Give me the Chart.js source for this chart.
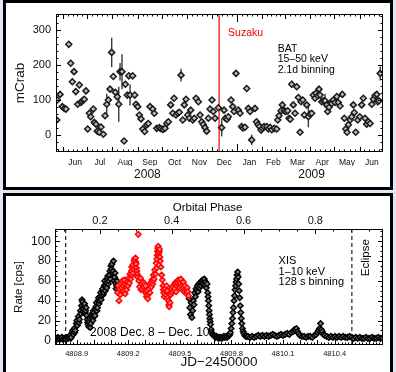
<!DOCTYPE html>
<html>
<head>
<meta charset="utf-8">
<script src="https://cdn.jsdelivr.net/npm/chart.js@4.4.1/dist/chart.umd.min.js"></script>
<style>
  html, body { margin: 0; padding: 0; }
  body { width: 396px; height: 372px; background: #e2e6f4; position: relative; overflow: hidden; }
  .panel { position: absolute; left: 3px; width: 390px; box-sizing: border-box; border: 3px solid #000; background: #fff; }
  #p1 { top: 0; height: 190px; }
  #p2 { top: 193px; height: 185px; }
  canvas { position: absolute; left: 0; }
  #bat { top: 0; }
  #xis { top: 192px; }
</style>
</head>
<body>
<div class="panel" id="p1"></div>
<div class="panel" id="p2"></div>
<canvas id="bat" width="396" height="190"></canvas>
<canvas id="xis" width="396" height="180"></canvas>
<script>
const FONT = '"Liberation Sans", Arial, sans-serif';

// ---- Swift/BAT, days since 2008 Jan 1 ----
const batDay = [144.5, 145.2, 148.6, 151.4, 153.8, 155.9, 159.3, 161.7, 163.7, 165.8, 167.9, 170.3, 172.3, 174.0, 175.6, 177.2, 178.4, 180.5, 182.6, 184.6,
  186.3, 189.5, 190.7, 192.8, 194.4, 196.9, 199.0, 201.8, 203.9, 206.0, 208.0, 210.1, 212.1, 214.1, 216.5, 219.0, 220.8, 222.4, 224.8, 227.3,
  228.9, 231.3, 233.1, 234.7, 237.9, 240.4, 242.0, 244.1, 246.1, 248.2, 250.3, 252.7, 255.2, 257.2, 259.3, 262.6, 264.5, 267.5, 270.7, 272.8,
  275.2, 277.7, 279.8, 281.8, 284.7, 287.2, 288.8, 291.2, 293.3, 295.3, 297.4, 299.5, 301.4, 303.5, 305.6, 307.6, 309.3, 311.8, 313.7, 315.8,
  318.7, 320.8, 322.8, 324.8, 326.9, 329.0, 331.0, 333.1, 335.5, 337.1, 339.2, 343.3, 347.4, 350.3, 351.9, 354.0, 355.6, 358.9, 361.0, 362.6,
  365.0, 367.9, 370.0, 371.8, 373.6, 376.1, 378.2, 380.2, 382.3, 384.3, 388.4, 390.2, 392.1, 393.9, 395.8, 397.6, 399.5, 402.8, 404.8, 406.9,
  409.0, 412.1, 415.1, 416.3, 417.9, 420.4, 422.0, 424.4, 426.2, 428.6, 430.2, 431.8, 433.5, 435.5, 437.6, 439.7, 441.7, 443.8, 445.0, 447.1,
  449.0, 452.0, 454.0, 456.1, 458.1, 460.1, 462.2, 463.4, 465.5, 467.1, 468.4, 470.4, 472.4, 474.5, 476.6, 477.8, 479.4, 481.5, 482.7, 484.7,
  486.8, 488.9, 490.9, 493.0, 495.8, 498.2, 500.0, 501.6, 503.2, 505.3, 507.3, 509.3, 510.5, 512.3, 514.7, 517.2, 519.6, 521.6, 523.7, 525.8,
  527.8, 529.9, 532.0, 533.9, 536.0, 538.1, 539.3, 540.9, 542.4];
const batRate = [43, 100, 116, 81, 76, 74, 259, 205, 152, 181, 124, 88, 143, 93, 96, 100, 102, 126, 17, 62,
  52, 74, 36, 31, 11, 8, 23, 2, 55, 88, 100, 131, 236, 167, 122, 109, 88, 181, 181, -17,
  145, 114, 169, 114, 169, 114, 88, 81, 57, 46, 17, 10, 29, 33, 81, 74, 62, 19, 21, 18,
  16, 19, 33, 38, 86, 62, 105, 57, 62, 65, 171, 43, 86, 102, 57, 48, 71, 43, 48, 105,
  95, 57, 38, 30, 21, 11, 48, 74, 100, 67, 48, 78, 21, 71, 48, 45, 52, 100, 81, 67,
  176, 71, 62, 24, 20, 22, 133, 76, 67, -14, 76, 38, 30, 24, 14, 19, 24, 24, 17, 22,
  15, 19, 17, 43, 55, 69, 86, 69, 67, 69, 48, 45, 145, 86, 62, 138, 107, 8, 95, 100,
  57, 86, 52, 60, 62, 114, 105, 119, 112, 131, 114, 95, 98, 98, 86, 67, 79, 93, 90, 100,
  93, 110, 93, 83, 116, 48, 17, 8, 29, 43, 52, 86, 64, 8, 43, 52, 86, 105, 48, 31,
  38, 33, 88, 103, 112, 116, 95, 98, 176];
// points whose error bars stick out of the symbol
const errDay = [206.0, 212.1, 220.8, 222.4, 224.8, 234.7, 297.4, 347.4, 384.3, 433.5, 454.0, 474.5, 542.4];
const errRate = [88, 236, 88, 181, 181, 114, 171, 21, -14, 145, 52, 98, 176];
const errHalf = [30, 42, 50, 25, 50, 30, 18, 25, 15, 10, 30, 20, 20];

const monthNames = ['Jun', 'Jul', 'Aug', 'Sep', 'Oct', 'Nov', 'Dec', 'Jan', 'Feb', 'Mar', 'Apr', 'May', 'Jun'];
const monthMid = [167, 197.5, 228.5, 259, 289.5, 320, 350.5, 381.5, 411, 440.5, 471, 501.5, 532];
const monthStart = [121, 152, 182, 213, 244, 274, 305, 335, 366, 397, 425, 456, 486, 517, 547];
const yearNames = ['2008', '2009'];
const yearLabelDay = [256, 458];
const yearStart = [366];
const suzakuDay = 344.2;

// ---- Suzaku XIS, JD-2450000 ----
const xisBlackJd = [4808.778, 4808.784, 4808.790, 4808.796, 4808.802, 4808.808, 4808.814, 4808.820, 4808.826, 4808.832, 4808.838, 4808.844, 4808.850, 4808.856,
  4808.862, 4808.865, 4808.868, 4808.874, 4808.877, 4808.880, 4808.886, 4808.889, 4808.892, 4808.898, 4808.901, 4808.904, 4808.910, 4808.913,
  4808.916, 4808.922, 4808.925, 4808.928, 4808.931, 4808.934, 4808.937, 4808.940, 4808.943, 4808.946, 4808.949, 4808.952, 4808.955, 4808.958,
  4808.961, 4808.964, 4808.967, 4808.970, 4808.973, 4808.976, 4808.979, 4808.982, 4808.985, 4808.988, 4808.991, 4808.994, 4808.997, 4809.000,
  4809.003, 4809.006, 4809.009, 4809.012, 4809.015, 4809.018, 4809.021, 4809.024, 4809.027, 4809.030, 4809.033, 4809.036, 4809.039, 4809.042,
  4809.045, 4809.048, 4809.051, 4809.054, 4809.057, 4809.060, 4809.063, 4809.066, 4809.069, 4809.072, 4809.075, 4809.078, 4809.081, 4809.084,
  4809.087, 4809.090, 4809.093, 4809.096, 4809.099, 4809.102, 4809.105, 4809.108, 4809.111, 4809.114, 4809.117, 4809.120, 4809.123, 4809.126,
  4809.129, 4809.132, 4809.135,
  4809.554, 4809.558, 4809.562, 4809.566, 4809.570, 4809.574, 4809.578, 4809.582, 4809.586, 4809.590, 4809.594, 4809.598, 4809.602, 4809.606,
  4809.610, 4809.614, 4809.618, 4809.622, 4809.626, 4809.630, 4809.634, 4809.638, 4809.642, 4809.646, 4809.650, 4809.654, 4809.658, 4809.662,
  4809.664, 4809.666, 4809.668, 4809.670, 4809.672, 4809.674, 4809.676, 4809.678, 4809.682, 4809.686, 4809.690, 4809.696, 4809.702, 4809.708,
  4809.714, 4809.720, 4809.726, 4809.732, 4809.738, 4809.744, 4809.750, 4809.756, 4809.762, 4809.768, 4809.774, 4809.780, 4809.786, 4809.790,
  4809.794, 4809.798, 4809.802, 4809.806, 4809.809, 4809.812, 4809.815, 4809.818, 4809.821, 4809.824, 4809.827, 4809.830, 4809.833, 4809.836,
  4809.839, 4809.842, 4809.845, 4809.848, 4809.851, 4809.854, 4809.857, 4809.860, 4809.864, 4809.868, 4809.872, 4809.878, 4809.884, 4809.890,
  4809.896, 4809.908, 4809.920, 4809.932, 4809.944, 4809.956, 4809.968, 4809.980, 4809.992, 4810.004, 4810.016, 4810.028, 4810.040, 4810.052,
  4810.064, 4810.076, 4810.088, 4810.100, 4810.112, 4810.124, 4810.136, 4810.148, 4810.160, 4810.166, 4810.172, 4810.178, 4810.184, 4810.190,
  4810.198, 4810.210, 4810.222, 4810.234, 4810.246, 4810.258, 4810.270, 4810.282, 4810.292, 4810.300, 4810.306, 4810.312, 4810.318, 4810.322,
  4810.328, 4810.334, 4810.342, 4810.354, 4810.366, 4810.378, 4810.390, 4810.402, 4810.414, 4810.426, 4810.438, 4810.450, 4810.462, 4810.474,
  4810.486, 4810.498, 4810.510, 4810.522, 4810.534, 4810.546, 4810.558, 4810.570, 4810.582, 4810.594, 4810.606, 4810.618, 4810.630, 4810.642,
  4810.654, 4810.666, 4810.678];
const xisBlackRate = [2, 1, 3, 2, 1, 2, 3, 1, 2, 2, 1, 3, 2, 3,
  5, 2, 3, 8, 10, 6, 12, 8, 10, 17, 20, 15, 24, 18,
  21, 30, 27, 35, 41, 39, 29, 32, 35, 37, 28, 30, 33, 25,
  21, 18, 16, 14, 19, 22, 13, 17, 26, 24, 22, 20, 30, 28,
  24, 25, 32, 34, 38, 30, 33, 40, 43, 37, 40, 44, 48, 41,
  45, 50, 52, 46, 48, 55, 60, 50, 55, 58, 53, 62, 65, 57,
  60, 66, 70, 62, 75, 72, 77, 68, 70, 80, 60, 64, 68, 58,
  52, 55, 60,
  42, 33, 26, 38, 23, 30, 40, 36, 48, 44, 52, 50, 55, 49,
  57, 53, 58, 55, 60, 57, 61, 58, 62, 56, 59, 53, 57, 48,
  44, 40, 35, 30, 26, 22, 19, 16, 11, 8, 6, 5, 4, 3,
  4, 3, 2, 3, 3, 2, 3, 4, 3, 4, 3, 4, 5, 6,
  8, 12, 17, 22, 28, 33, 40, 45, 51, 55, 59, 62, 66, 69,
  64, 57, 50, 43, 35, 28, 22, 17, 12, 9, 7, 5, 4, 4,
  4, 3, 4, 3, 4, 5, 4, 5, 4, 5, 4, 5, 6, 5,
  4, 5, 6, 5, 6, 7, 6, 8, 9, 11, 10, 12, 9, 7,
  5, 4, 4, 3, 4, 4, 3, 5, 6, 8, 10, 12, 17, 11,
  9, 6, 5, 4, 3, 4, 3, 4, 3, 4, 3, 4, 3, 3,
  4, 3, 2, 3, 2, 3, 2, 2, 3, 2, 2, 3, 2, 2,
  3, 2, 2];
const xisRedJd = [4809.138, 4809.142, 4809.146, 4809.150, 4809.154, 4809.158, 4809.162, 4809.166, 4809.168, 4809.170, 4809.174, 4809.176, 4809.178,
  4809.182, 4809.184, 4809.186, 4809.190, 4809.194, 4809.198, 4809.202, 4809.206, 4809.210, 4809.214, 4809.218, 4809.220, 4809.222, 4809.226,
  4809.228, 4809.230, 4809.234, 4809.236, 4809.238, 4809.242, 4809.244, 4809.246, 4809.248, 4809.250, 4809.252, 4809.254, 4809.258, 4809.262,
  4809.266, 4809.270, 4809.274, 4809.278, 4809.282, 4809.286, 4809.290, 4809.294, 4809.298, 4809.300, 4809.302, 4809.306, 4809.308, 4809.310,
  4809.314, 4809.318, 4809.322, 4809.326, 4809.330, 4809.334, 4809.338, 4809.342, 4809.344, 4809.346, 4809.350, 4809.354, 4809.358, 4809.362,
  4809.364, 4809.366, 4809.368, 4809.370, 4809.372, 4809.374, 4809.376, 4809.378, 4809.380, 4809.382, 4809.384, 4809.386, 4809.390, 4809.394,
  4809.398, 4809.402, 4809.404, 4809.406, 4809.410, 4809.414, 4809.418, 4809.420, 4809.422, 4809.426, 4809.430, 4809.434, 4809.436, 4809.438,
  4809.442, 4809.446, 4809.450, 4809.454, 4809.458, 4809.462, 4809.466, 4809.470, 4809.472, 4809.474, 4809.478, 4809.482, 4809.486, 4809.490,
  4809.494, 4809.498, 4809.500, 4809.502, 4809.506, 4809.510, 4809.514, 4809.518, 4809.520, 4809.522, 4809.526, 4809.530, 4809.534, 4809.538,
  4809.540, 4809.542, 4809.546, 4809.550];
const xisRedRate = [48, 55, 40, 52, 46, 58, 53, 60, 49, 55, 50, 57, 61,
  47, 52, 56, 51, 59, 55, 63, 58, 67, 62, 70, 74, 66, 76,
  68, 72, 80, 82, 74, 83, 79, 77, 73, 70, 67, 64, 107, 60,
  54, 63, 51, 57, 52, 59, 54, 57, 50, 55, 48, 44, 46, 50,
  42, 47, 52, 48, 58, 54, 61, 57, 60, 66, 62, 71, 67, 78,
  73, 82, 86, 90, 93, 95, 85, 88, 90, 92, 84, 80, 74, 66,
  61, 55, 51, 48, 44, 52, 46, 49, 55, 50, 43, 40, 36, 34,
  38, 46, 52, 48, 54, 50, 56, 52, 58, 57, 49, 55, 58, 61,
  56, 60, 53, 57, 62, 55, 51, 57, 59, 53, 49, 55, 51, 47,
  50, 53, 49, 45];

const jdTicks = [4808.9, 4809.2, 4809.5, 4809.8, 4810.1, 4810.4];
const phaseTicks = [0.2, 0.4, 0.6, 0.8];
const rateTicks = [0, 20, 40, 60, 80, 100];
const mcrabTicks = [0, 100, 200, 300];
const period = 2.087;
const phaseZeroJd = 4808.618;
const eclipseJd = [4808.836, 4810.50];
const jdMin = 4808.774, jdMax = 4810.681;

function range(a, b, step) {
  const out = [];
  for (let v = a; v <= b + 1e-9; v += step) out.push(+v.toFixed(4));
  return out;
}

const frame = {
  id: 'frame',
  beforeDatasetsDraw(chart, args, o) {
    const {ctx} = chart;
    if (o.errors) {
      const e = o.errors, xs = chart.scales.x, ys = chart.scales.y;
      ctx.save();
      ctx.strokeStyle = '#3a3a3a';
      ctx.lineWidth = 1.4;
      e.x.forEach((v, i) => {
        const px = xs.getPixelForValue(v);
        ctx.beginPath();
        ctx.moveTo(px, ys.getPixelForValue(e.y[i] - e.h[i]));
        ctx.lineTo(px, ys.getPixelForValue(e.y[i] + e.h[i]));
        ctx.stroke();
      });
      ctx.restore();
    }
    const a = chart.chartArea;
    (o.vlines || []).forEach(l => {
      const px = chart.scales[l.scale].getPixelForValue(l.value);
      ctx.save();
      ctx.strokeStyle = l.color;
      ctx.lineWidth = l.width;
      ctx.setLineDash(l.dash || []);
      ctx.beginPath();
      ctx.moveTo(px, a.top);
      ctx.lineTo(px, a.bottom);
      ctx.stroke();
      ctx.restore();
    });
  },
  afterDraw(chart, args, o) {
    const {ctx} = chart;
    const a = chart.chartArea;
    ctx.save();
    ctx.strokeStyle = '#000';
    ctx.lineWidth = 1;
    ctx.strokeRect(a.left + 0.5, a.top + 0.5, a.right - a.left - 1, a.bottom - a.top - 1);
    (o.marks || []).forEach(m => {
      const s = chart.scales[m.scale];
      m.values.forEach(v => {
        const p = Math.round(s.getPixelForValue(v)) + 0.5;
        m.sides.forEach(side => {
          ctx.beginPath();
          if (side === 'bottom' || side === 'top') {
            if (p < a.left || p > a.right) return;
            const y0 = side === 'bottom' ? a.bottom : a.top;
            ctx.moveTo(p, y0);
            ctx.lineTo(p, side === 'bottom' ? y0 - m.len : y0 + m.len);
          } else {
            if (p < a.top || p > a.bottom) return;
            const x0 = side === 'left' ? a.left : a.right;
            ctx.moveTo(x0, p);
            ctx.lineTo(side === 'left' ? x0 + m.len : x0 - m.len, p);
          }
          ctx.stroke();
        });
      });
    });
    (o.texts || []).forEach(t => {
      const px = chart.scales[t.xScale || 'x'].getPixelForValue(t.x);
      const py = chart.scales.y.getPixelForValue(t.y);
      ctx.save();
      ctx.translate(px, py);
      if (t.rotate) ctx.rotate(t.rotate * Math.PI / 180);
      ctx.font = t.size + 'px ' + FONT;
      ctx.fillStyle = t.color || '#000';
      ctx.textAlign = t.align || 'left';
      ctx.textBaseline = 'middle';
      t.lines.forEach((line, i) => ctx.fillText(line, 0, i * (t.lh || t.size)));
      ctx.restore();
    });
    ctx.restore();
  }
};

const minorDays = monthStart.slice(0, -1).flatMap((d, i) =>
  [1, 2, 3, 4].map(k => d + k * (monthStart[i + 1] - d) / 5));

new Chart(document.getElementById('bat'), {
  type: 'scatter',
  data: {
    datasets: [{
      data: batDay.map((d, i) => ({x: d, y: batRate[i]})),
      pointStyle: 'rectRot',
      pointRadius: 3,
      borderColor: '#1a1a1a',
      backgroundColor: '#bdbdbd',
      borderWidth: 1.5,
    }],
  },
  plugins: [frame],
  options: {
    responsive: false,
    animation: false,
    devicePixelRatio: 1,
    layout: {padding: {left: 0, right: 13, top: 14, bottom: 0}},
    plugins: {
      legend: {display: false},
      tooltip: {enabled: false},
      frame: {
        errors: {x: errDay, y: errRate, h: errHalf},
        vlines: [{scale: 'x', value: suzakuDay, color: '#ee0000', width: 1.2}],
        marks: [
          {scale: 'x', values: monthStart, len: 5, sides: ['bottom', 'top']},
          {scale: 'x', values: yearStart, len: 8, sides: ['bottom', 'top']},
          {scale: 'x', values: minorDays, len: 2.5, sides: ['bottom', 'top']},
          {scale: 'y', values: mcrabTicks, len: 5, sides: ['left', 'right']},
          {scale: 'y', values: range(-40, 340, 20), len: 2.5, sides: ['left', 'right']},
        ],
        texts: [
          {x: 355.2, y: 291, lines: ['Suzaku'], size: 10.5, color: '#ee0000'},
          {x: 416.3, y: 246, lines: ['BAT', '15\u201350 keV', '2.1d binning'], size: 10.5, lh: 10.4},
        ],
      },
    },
    scales: {
      x: {
        type: 'linear', position: 'bottom', min: 143.6, max: 545.8,
        grid: {display: false, drawTicks: false},
        border: {display: false},
        afterBuildTicks: s => { s.ticks = monthMid.map(v => ({value: v})); },
        afterFit: s => { s.height = 14; },
        ticks: {
          callback: (v, i) => monthNames[i],
          autoSkip: false, maxRotation: 0, minRotation: 0,
          padding: 5.5, color: '#111', font: {family: FONT, size: 8.5},
        },
      },
      yr: {
        type: 'linear', position: 'bottom', min: 143.6, max: 545.8,
        grid: {display: false, drawTicks: false},
        border: {display: false},
        afterBuildTicks: s => { s.ticks = yearLabelDay.map(v => ({value: v})); },
        afterFit: s => { s.height = 24; },
        ticks: {
          callback: (v, i) => yearNames[i],
          autoSkip: false, maxRotation: 0, minRotation: 0,
          padding: 1, color: '#111', font: {family: FONT, size: 12},
        },
      },
      y: {
        min: -48.6, max: 345.7,
        grid: {display: false, drawTicks: false},
        border: {display: false},
        afterBuildTicks: s => { s.ticks = mcrabTicks.map(v => ({value: v})); },
        afterFit: s => { s.width = 56; },
        ticks: {padding: 5, color: '#111', font: {family: FONT, size: 11}},
        title: {display: true, text: 'mCrab', color: '#111', font: {family: FONT, size: 13.5}, padding: {top: 12.5, bottom: 0}},
      },
    },
  },
});

const phMin = (jdMin - phaseZeroJd) / period;
const phMax = (jdMax - phaseZeroJd) / period;

new Chart(document.getElementById('xis'), {
  type: 'scatter',
  data: {
    datasets: [
      {
        data: xisRedJd.map((d, i) => ({x: d, y: xisRedRate[i]})),
        pointStyle: 'rectRot', pointRadius: 2.8,
        borderColor: '#ff0000', backgroundColor: '#ff8080', borderWidth: 1.4,
      },
      {
        data: xisBlackJd.map((d, i) => ({x: d, y: xisBlackRate[i]})),
        pointStyle: 'rectRot', pointRadius: 2.8,
        borderColor: '#000', backgroundColor: '#777', borderWidth: 1.4,
      },
    ],
  },
  plugins: [frame],
  options: {
    responsive: false,
    animation: false,
    devicePixelRatio: 1,
    layout: {padding: {left: 0, right: 13, top: 0, bottom: 0}},
    plugins: {
      legend: {display: false},
      tooltip: {enabled: false},
      frame: {
        vlines: eclipseJd.map(v => ({scale: 'x', value: v, color: '#222', width: 1.2, dash: [4, 3]})),
        marks: [
          {scale: 'x', values: range(4808.8, 4810.6, 0.1), len: 5, sides: ['bottom']},
          {scale: 'x', values: range(4808.78, 4810.68, 0.02), len: 2.5, sides: ['bottom']},
          {scale: 'ph', values: phaseTicks, len: 5, sides: ['top']},
          {scale: 'ph', values: range(0.1, 0.95, 0.05), len: 2.5, sides: ['top']},
          {scale: 'y', values: rateTicks, len: 5, sides: ['left', 'right']},
          {scale: 'y', values: range(0, 110, 5), len: 2.5, sides: ['left', 'right']},
        ],
        texts: [
          {xScale: 'ph', x: 0.5, y: 133.5, lines: ['Orbital Phase'], size: 11.5, align: 'center'},
          {x: 4810.074, y: 80, lines: ['XIS', '1\u201310 keV', '128 s binning'], size: 11, lh: 10.6},
          {x: 4810.582, y: 83.4, lines: ['Eclipse'], size: 11.5, align: 'center', rotate: -90},
          {x: 4808.978, y: 7.4, lines: ['2008 Dec. 8 \u2013 Dec. 10'], size: 12},
        ],
      },
    },
    scales: {
      x: {
        type: 'linear', position: 'bottom', min: jdMin, max: jdMax,
        grid: {display: false, drawTicks: false},
        border: {display: false},
        afterBuildTicks: s => { s.ticks = jdTicks.map(v => ({value: v})); },
        afterFit: s => { s.height = 27; },
        ticks: {
          callback: v => v.toFixed(1),
          autoSkip: false, maxRotation: 0, minRotation: 0,
          padding: 4, color: '#111', font: {family: FONT, size: 7.5},
        },
        title: {display: true, text: 'JD\u22122450000', color: '#111', font: {family: FONT, size: 13.5}, padding: {top: 0, bottom: 1.6}},
      },
      ph: {
        type: 'linear', position: 'top', min: phMin, max: phMax,
        grid: {display: false, drawTicks: false},
        border: {display: false},
        afterBuildTicks: s => { s.ticks = phaseTicks.map(v => ({value: v})); },
        afterFit: s => { s.height = 37; },
        ticks: {
          callback: v => v.toFixed(1),
          autoSkip: false, maxRotation: 0, minRotation: 0,
          padding: 1.5, color: '#111', font: {family: FONT, size: 11},
        },
      },
      y: {
        min: -4.7, max: 112.4,
        grid: {display: false, drawTicks: false},
        border: {display: false},
        afterBuildTicks: s => { s.ticks = rateTicks.map(v => ({value: v})); },
        afterFit: s => { s.width = 55; },
        ticks: {padding: 4, color: '#111', font: {family: FONT, size: 12}},
        title: {display: true, text: 'Rate [cps]', color: '#111', font: {family: FONT, size: 11.5}, padding: {top: 12.4, bottom: 0}},
      },
    },
  },
});
</script>
</body>
</html>
